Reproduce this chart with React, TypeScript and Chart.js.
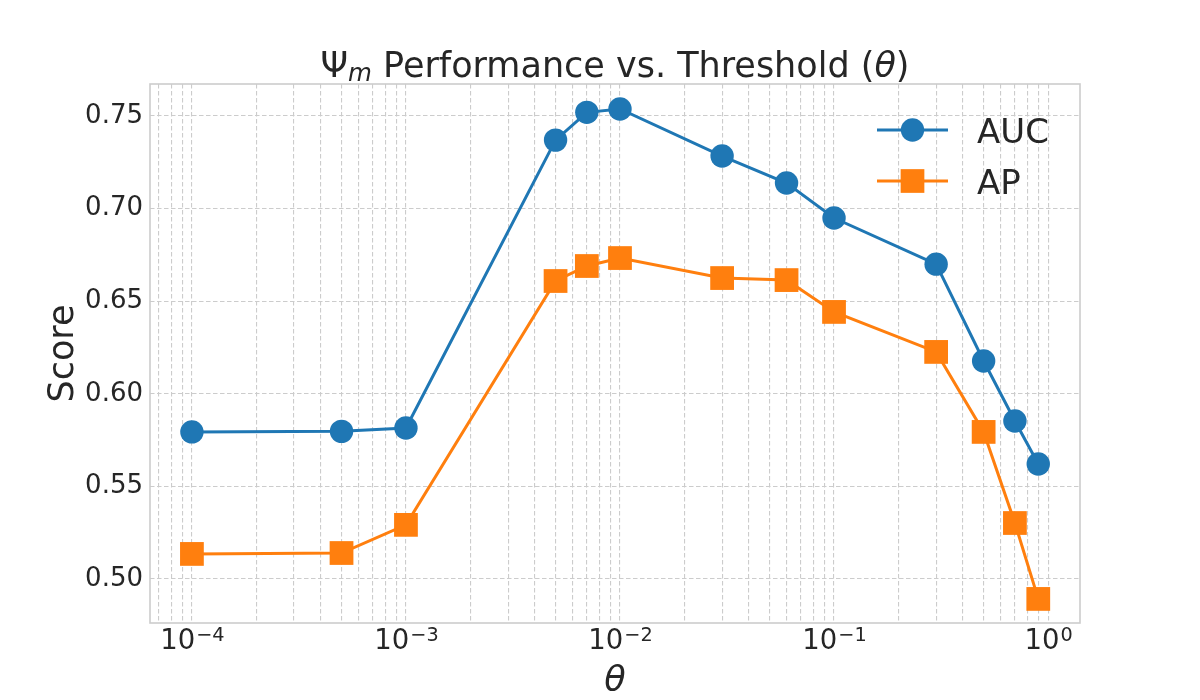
import React, { useEffect, useRef } from "react";
import { Chart, registerables } from "chart.js";

Chart.register(...registerables);

// ---- data ----
const thetaValues = [1e-4, 5e-4, 1e-3, 5e-3, 7e-3, 1e-2, 3e-2, 6e-2, 1e-1, 3e-1, 5e-1, 7e-1, 9e-1];
const aucScores = [0.5794, 0.5797, 0.5815, 0.737, 0.752, 0.7538, 0.7284, 0.7138, 0.6949, 0.67, 0.6177, 0.5853, 0.5621];
const apScores = [0.5135, 0.514, 0.5292, 0.6609, 0.669, 0.6733, 0.6625, 0.6614, 0.6442, 0.6226, 0.5794, 0.5302, 0.4892];
const seriesLabels = ["AUC", "AP"];
const yTickValues = [0.5, 0.55, 0.6, 0.65, 0.7, 0.75];
const xMajorExponents = [-4, -3, -2, -1, 0];
const xLabel = "θ";
const yLabel = "Score";

const X_MIN = 6.37e-5;
const X_MAX = 1.41;
const Y_MIN = 0.4762;
const Y_MAX = 0.7673;

const BLUE = "#1f77b4";
const ORANGE = "#ff7f0e";
const TEXT = "#262626";
const GRID = "#cccccc";
const FONT = '"DejaVu Sans"';

function xGridTicks(): number[] {
  const out: number[] = [];
  for (let e = -5; e <= 0; e++) {
    for (let k = 1; k <= 9; k++) {
      const v = parseFloat((k * Math.pow(10, e)).toPrecision(6));
      if (v >= X_MIN && v <= X_MAX) out.push(v);
    }
  }
  return out;
}

const decorPlugin = {
  id: "decor",
  afterDraw(chart: any) {
    const ctx: CanvasRenderingContext2D = chart.ctx;
    const area = chart.chartArea;
    const xs = chart.scales.x;
    ctx.save();

    // frame
    ctx.strokeStyle = GRID;
    ctx.lineWidth = 1.6;
    ctx.setLineDash([]);
    ctx.strokeRect(area.left, area.top, area.right - area.left, area.bottom - area.top);

    ctx.fillStyle = TEXT;
    ctx.textBaseline = "alphabetic";

    // x tick labels 10^e
    const mainSize = 27.5;
    const supSize = 19.3;
    for (const e of xMajorExponents) {
      const px = xs.getPixelForValue(Math.pow(10, e));
      const base = "10";
      const sup = e < 0 ? "\u2212" + Math.abs(e) : String(e);
      ctx.font = `${mainSize}px ${FONT}`;
      const wb = ctx.measureText(base).width;
      ctx.font = `${supSize}px ${FONT}`;
      const ws = ctx.measureText(sup).width;
      const start = px - (wb + ws) / 2;
      ctx.textAlign = "left";
      ctx.font = `${mainSize}px ${FONT}`;
      ctx.fillText(base, start, 649);
      ctx.font = `${supSize}px ${FONT}`;
      ctx.fillText(sup, start + wb + 1, 641);
    }

    // x axis label
    ctx.font = `italic 35px ${FONT}`;
    ctx.textAlign = "center";
    ctx.fillText(xLabel, (area.left + area.right) / 2, 691);

    // y axis label
    ctx.save();
    ctx.translate(73, (area.top + area.bottom) / 2);
    ctx.rotate(-Math.PI / 2);
    ctx.font = `35px ${FONT}`;
    ctx.textAlign = "center";
    ctx.fillText(yLabel, 0, 0);
    ctx.restore();

    // title: Ψ_m Performance vs. Threshold (θ)
    const tSize = 35;
    const parts = [
      { t: "Ψ", f: `${tSize}px ${FONT}`, dy: 0 },
      { t: "m", f: `italic ${tSize * 0.7}px ${FONT}`, dy: 4 },
      { t: " Performance vs. Threshold (", f: `${tSize}px ${FONT}`, dy: 0 },
      { t: "θ", f: `italic ${tSize}px ${FONT}`, dy: 0 },
      { t: ")", f: `${tSize}px ${FONT}`, dy: 0 },
    ];
    let total = 0;
    const widths: number[] = [];
    for (const p of parts) {
      ctx.font = p.f;
      const w = ctx.measureText(p.t).width;
      widths.push(w);
      total += w;
    }
    let tx = (area.left + area.right) / 2 - total / 2;
    ctx.textAlign = "left";
    parts.forEach((p, i) => {
      ctx.font = p.f;
      ctx.fillText(p.t, tx, 77 + p.dy);
      tx += widths[i];
    });

    // legend
    const rows = [
      { label: seriesLabels[0], color: BLUE, shape: "circle", y: 130 },
      { label: seriesLabels[1], color: ORANGE, shape: "square", y: 181 },
    ];
    for (const r of rows) {
      ctx.strokeStyle = r.color;
      ctx.fillStyle = r.color;
      ctx.lineWidth = 3;
      ctx.beginPath();
      ctx.moveTo(877, r.y);
      ctx.lineTo(948, r.y);
      ctx.stroke();
      if (r.shape === "circle") {
        ctx.beginPath();
        ctx.arc(912.5, r.y, 11.7, 0, Math.PI * 2);
        ctx.fill();
      } else {
        ctx.fillRect(912.5 - 11.85, r.y - 11.85, 23.7, 23.7);
      }
      ctx.fillStyle = TEXT;
      ctx.font = `34px ${FONT}`;
      ctx.textAlign = "left";
      ctx.fillText(r.label, 977, r.y + 13);
    }

    ctx.restore();
  },
};

export default function App() {
  const canvasRef = useRef<HTMLCanvasElement>(null);

  useEffect(() => {
    document.body.style.margin = "0";
    const canvas = canvasRef.current;
    if (!canvas) return;
    const gridTicks = xGridTicks();

    const chart = new Chart(canvas, {
      type: "line",
      data: {
        datasets: [
          {
            label: seriesLabels[0],
            data: thetaValues.map((x, i) => ({ x, y: aucScores[i] })),
            borderColor: BLUE,
            backgroundColor: BLUE,
            borderWidth: 3,
            pointStyle: "circle",
            pointRadius: 11.7,
            pointHoverRadius: 11.7,
            pointBorderWidth: 0,
            pointBackgroundColor: BLUE,
            tension: 0,
            clip: false as any,
          },
          {
            label: seriesLabels[1],
            data: thetaValues.map((x, i) => ({ x, y: apScores[i] })),
            borderColor: ORANGE,
            backgroundColor: ORANGE,
            borderWidth: 3,
            pointStyle: "rect",
            pointRadius: 16.8,
            pointHoverRadius: 16.8,
            pointBorderWidth: 0,
            pointBackgroundColor: ORANGE,
            tension: 0,
            clip: false as any,
          },
        ],
      },
      options: {
        responsive: false,
        animation: false,
        events: [],
        layout: { padding: { top: 84, right: 120, left: 0, bottom: 0 } },
        plugins: {
          legend: { display: false },
          title: { display: false },
          tooltip: { enabled: false },
        },
        scales: {
          x: {
            type: "logarithmic",
            min: X_MIN,
            max: X_MAX,
            bounds: "data",
            afterBuildTicks: (s: any) => {
              s.ticks = gridTicks.map((v) => ({ value: v }));
            },
            afterFit: (s: any) => {
              s.height = 77;
            },
            ticks: { display: false, autoSkip: false },
            grid: { color: GRID, lineWidth: 1.1, drawTicks: false },
            border: { display: false, dash: [4.5, 2.5] },
          },
          y: {
            type: "linear",
            min: Y_MIN,
            max: Y_MAX,
            afterBuildTicks: (s: any) => {
              s.ticks = yTickValues.map((v) => ({ value: v }));
            },
            afterFit: (s: any) => {
              s.width = 150;
            },
            ticks: {
              padding: 7,
              color: TEXT,
              font: { family: "DejaVu Sans", size: 26 },
              callback: (v: any) => Number(v).toFixed(2),
            },
            grid: { color: GRID, lineWidth: 1.1, drawTicks: false },
            border: { display: false, dash: [4.5, 2.5] },
          },
        },
      },
      plugins: [decorPlugin],
    } as any);

    return () => chart.destroy();
  }, []);

  return (
    <div style={{ position: "absolute", left: 0, top: 0, width: 1200, height: 700, background: "#ffffff" }}>
      <canvas ref={canvasRef} width={1200} height={700} style={{ width: 1200, height: 700 }} />
    </div>
  );
}
